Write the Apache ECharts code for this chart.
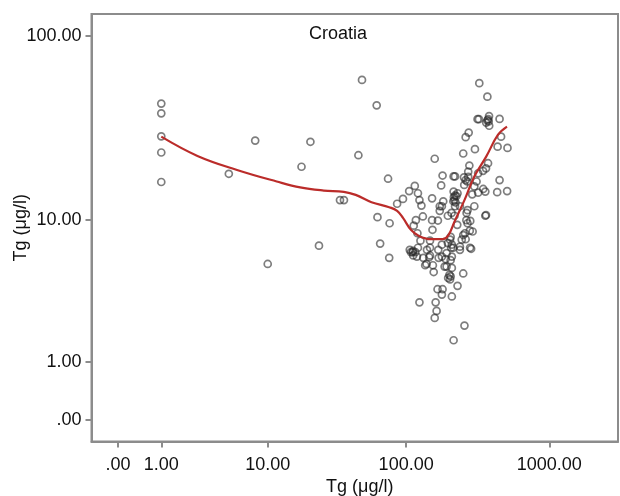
<!DOCTYPE html>
<html>
<head>
<meta charset="utf-8">
<script src="https://cdn.jsdelivr.net/npm/echarts@6/dist/echarts.min.js"></script>
<style>
html,body{margin:0;padding:0;background:#fff;}
#chart{width:620px;height:496px;}
</style>
</head>
<body>
<div id="chart"></div>
<script>
// Tg (µg/l) scatter values
var tgX = [1,1,1,1,1,4.9,8,10,17.9,20.8,24,34,36.3,46,48.8,62,62.8,65.6,74.6,76.5,76,86.4,95,105,115,121,124,128,117,131,
  111,116,121,126,120,124,136,145,140,147,153,152,167,152,158.6,176,180,172,218,216,222,214,220,156,154,169,178,166,180,178,
  161,163.5,158.6,209,215,256,229,251,205,197,201,203,192,189,205,207,196,205,228,218,196,225,229,215,220,254,251,261,272,277,
  261,274,303,325,370,316,323,363,381,380,450,461,436,511,374,345,319,450,433,508,358,319,300,300,358,269,264,269,258,251,
  261,285,292,238,245,281,255,311,362,346,182,178,238,220,208,172,362,113,265,279,147,168,178,203,209,214,238,280,112,106,
  108,119,132,147,192,209,112,139,186,209,375,378,370,290,272,268,215];
var tgY = [43.6,38.7,29.1,23.8,16.4,18.2,27.6,5.5,19.9,27.2,7.1,13,13,23,58.3,42.7,10.4,7.3,17.1,9.6,6.0,12.4,13.2,14.6,15.6,14.2,13,12.1,10,10.5,
  6.5,6.5,6.9,7.6,8.4,3.1,5.4,6.05,6.7,7.6,8.8,10,9.95,13.3,22,15.7,17.8,12,13,13.5,12.6,12.8,13.8,4.9,5.4,6.0,6.1,3.8,3.8,3.5,
  3.1,2.7,2.4,3.4,1.6,2.1,4.0,4.8,4.6,4.5,4.7,4.4,5.3,5.9,5.8,6.9,7.35,8.0,9.4,10.6,10.6,13.7,14.2,17.6,17.6,17.4,23.5,16.8,18.7,20.2,
  28.8,30.5,24.8,56,47.5,36,36,34.5,33.2,37.4,36.1,29,25.6,25.2,20.8,18.9,18.3,16.8,14.4,14.6,14.5,14.3,15.5,12,10.6,11.4,10,9.6,8.4,8.2,
  7.75,6.8,8.6,7.0,7.7,9.9,15.8,16.5,19.5,15,12.8,12,12,12,11,11.3,10.7,9.3,11,8.7,6.9,6.7,7.2,7.7,7.2,6.9,6.7,6.9,6.6,6.7,
  6.5,6.1,6.0,6.2,6.4,6.1,6.2,5.5,5.3,5.2,36,35,35.5,14,17.5,16.5,14.5];

// Fit line (loess)
var fitX = [1,2.57,5.73,11.7,17.5,26,36.2,44,57,76,86.4,95,108,123,149,180,198,218,256,300,363,438,507];
var fitY = [29,22.8,19.1,16.5,15.3,14.7,14.45,13.9,12.65,11.85,11.3,10.3,8.8,8.1,7.75,7.75,8.2,9.8,13,17.6,22.6,29.6,32.8];

// Tick labels
var xTickValues = [0,1,10,100,1000];
var xTickLabels = ['.00','1.00','10.00','100.00','1000.00'];
var yTickValues = [0,1,10,100];
var yTickLabels = ['.00','1.00','10.00','100.00'];

// "safe log" scale transform used by the original chart
function slog(v){ return Math.log10(1 + v); }

function fmt(values, labels){
  return function(val){
    for (var i = 0; i < values.length; i++) {
      if (Math.abs(slog(values[i]) - val) < 1e-6) return labels[i];
    }
    return '';
  };
}

var scatterData = tgX.map(function(x,i){ return [slog(x), slog(tgY[i])]; });
var lineData = fitX.map(function(x,i){ return [slog(x), slog(fitY[i])]; });

var chart = echarts.init(document.getElementById('chart'), null, {renderer:'canvas'});
var font = 'Arial, "Liberation Sans", sans-serif';
chart.setOption({
  animation: false,
  backgroundColor: '#fff',
  title: {
    text: 'Croatia', left: 309, top: 25, padding: 0,
    textStyle: {fontFamily: font, fontSize: 18, fontWeight: 'normal', color: '#111'}
  },
  grid: {
    left: 91.5, right: 2, top: 14, bottom: 54.5,
    containLabel: false, outerBoundsMode: 'none',
    show: true, borderColor: '#8c8c8c', borderWidth: 2, backgroundColor: 'transparent'
  },
  xAxis: {
    type: 'value',
    min: -0.1844, max: 3.478,
    name: 'Tg (μg/l)', nameLocation: 'middle', nameGap: 37, nameMoveOverlap: false,
    nameTextStyle: {fontFamily: font, fontSize: 18, color: '#111', padding: [0,0,0,10]},
    axisLine: {show: true, onZero: false, lineStyle: {color: '#8c8c8c', width: 2}},
    axisTick: {show: true, length: 6, lineStyle: {color: '#8c8c8c', width: 2},
      customValues: xTickValues.map(slog)},
    axisLabel: {show: true, margin: 15, fontFamily: font, fontSize: 18, color: '#111',
      customValues: xTickValues.map(slog), formatter: fmt(xTickValues, xTickLabels),
      showMinLabel: true, showMaxLabel: true},
    splitLine: {show: false}
  },
  yAxis: {
    type: 'value',
    min: -0.1131, max: 2.1168,
    name: 'Tg (μg/l)', nameLocation: 'middle', nameGap: 61, nameRotate: 90, nameMoveOverlap: false,
    nameTextStyle: {fontFamily: font, fontSize: 18, color: '#111'},
    axisLine: {show: true, onZero: false, lineStyle: {color: '#8c8c8c', width: 2}},
    axisTick: {show: true, length: 6, lineStyle: {color: '#8c8c8c', width: 2},
      customValues: yTickValues.map(slog)},
    axisLabel: {show: true, margin: 10, fontFamily: font, fontSize: 18, color: '#111',
      customValues: yTickValues.map(slog), formatter: fmt(yTickValues, yTickLabels)},
    splitLine: {show: false}
  },
  series: [
    {
      type: 'scatter',
      data: scatterData,
      symbol: 'circle',
      symbolSize: 7,
      itemStyle: {color: 'rgba(0,0,0,0)', borderColor: 'rgba(40,40,40,0.75)', borderWidth: 1.7},
      emphasis: {disabled: true},
      z: 2
    },
    {
      type: 'line',
      data: lineData,
      smooth: 0.4,
      showSymbol: false,
      symbol: 'none',
      lineStyle: {color: '#bb2c2a', width: 2.2},
      emphasis: {disabled: true},
      z: 3
    }
  ]
});
</script>
</body>
</html>
